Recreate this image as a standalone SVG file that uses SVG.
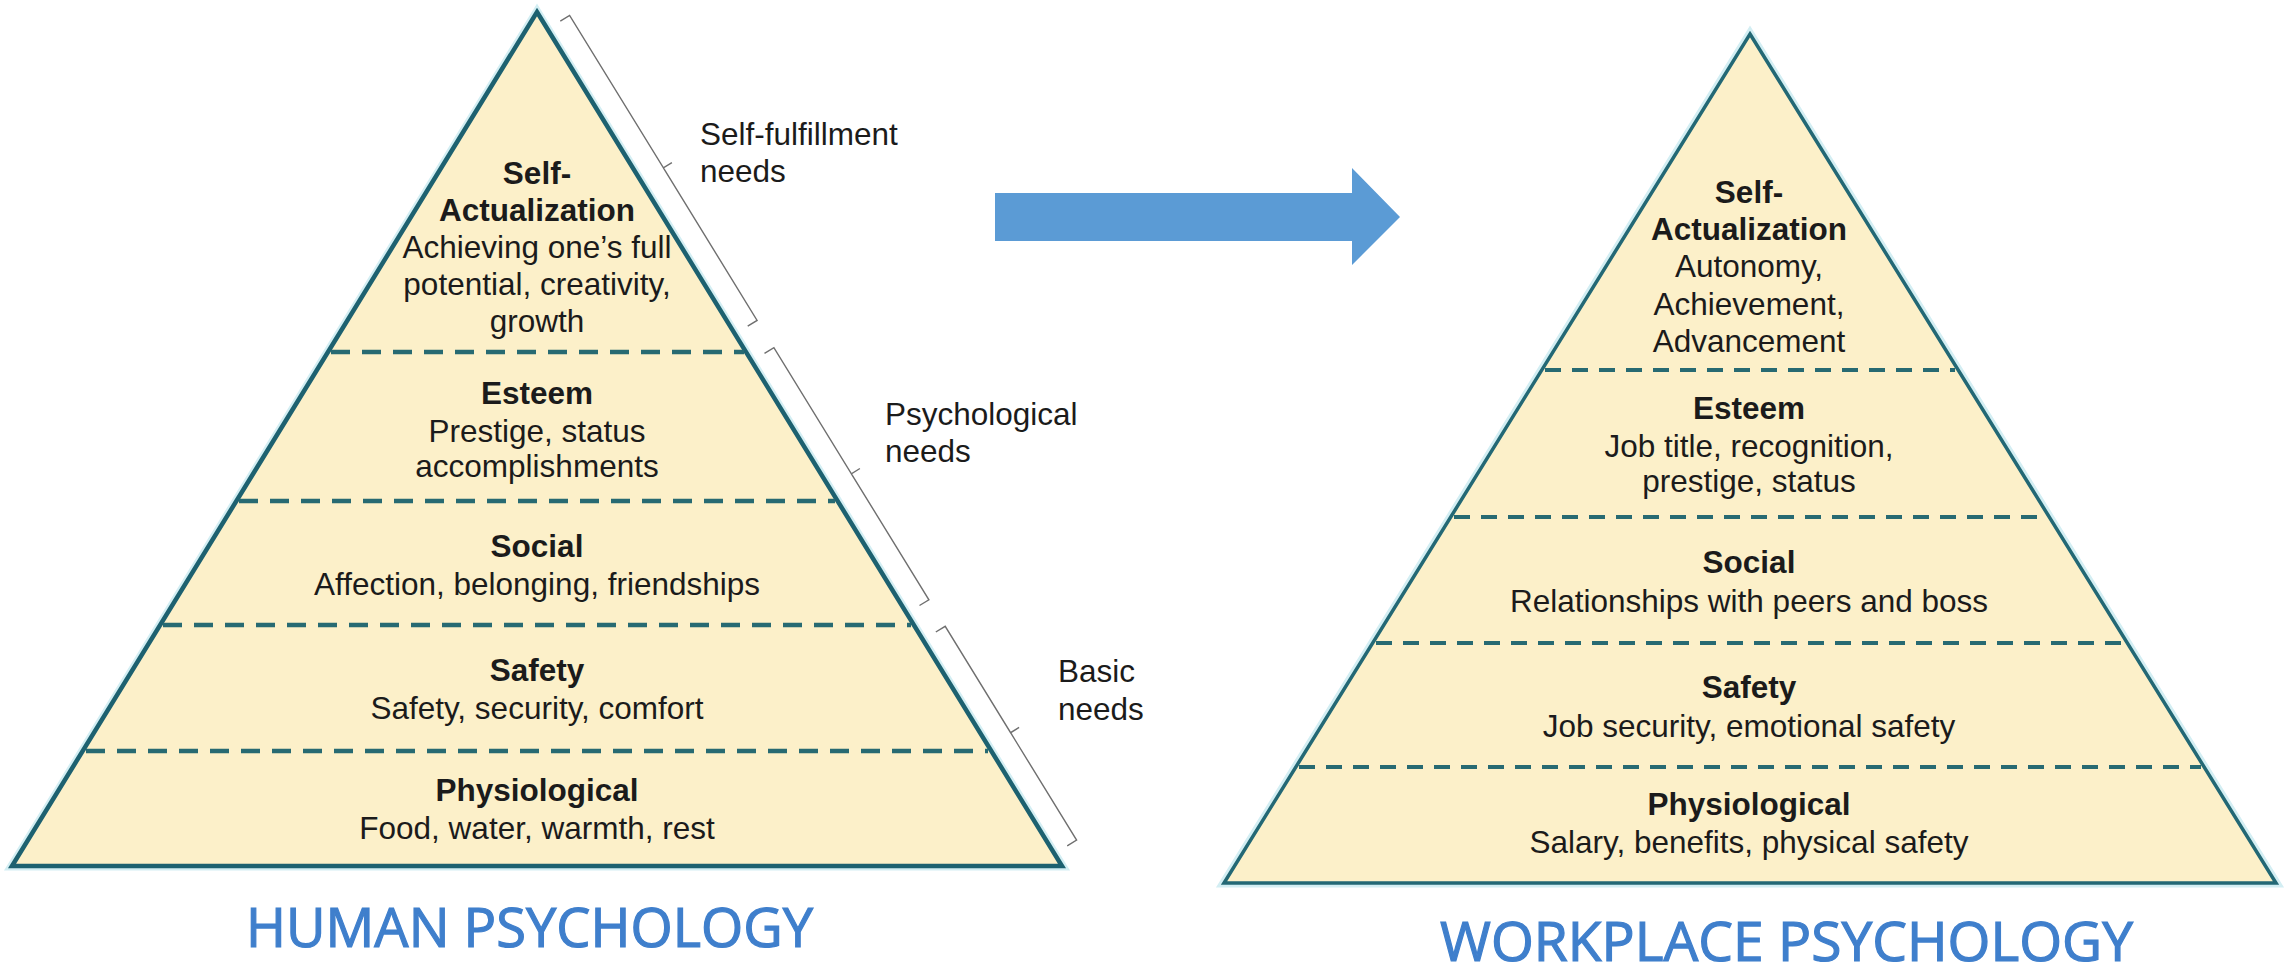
<svg xmlns="http://www.w3.org/2000/svg" width="2292" height="976" viewBox="0 0 2292 976">
  <style>
    .t { font-family: "Liberation Sans", Arial, Helvetica, sans-serif; font-size: 31.5px; fill: #1b1b1b; text-anchor: middle; }
    .b { font-weight: bold; }
    .lbl { font-family: "Liberation Sans", Arial, Helvetica, sans-serif; font-size: 31.5px; fill: #1b1b1b; }
    .halo { fill: none; stroke: #d3eef3; stroke-width: 9; stroke-linejoin: miter; }
    .pyr-l { fill: #fcf0c9; stroke: #1d6170; stroke-width: 4.5; stroke-linejoin: miter; }
    .pyr-r { fill: #fcf0c9; stroke: #236875; stroke-width: 3.5; stroke-linejoin: miter; }
    .dash-l { stroke: #276a72; stroke-width: 4.5; stroke-dasharray: 19 12; fill: none; }
    .dash-r { stroke: #276a72; stroke-width: 4; stroke-dasharray: 16 11; fill: none; }
    .brace { fill: none; stroke: #6f6f6f; stroke-width: 1.4; stroke-linejoin: miter; }
    .title { font-family: "Open Sans", "DejaVu Sans", sans-serif; font-size: 55px; font-weight: normal; fill: #3f7fcc; stroke: #3f7fcc; stroke-width: 1.2; }
  </style>

  <rect x="0" y="0" width="2292" height="976" fill="#ffffff"/>

  <!-- Left pyramid: human needs -->
  <g id="pyramid-human">
    <polygon class="halo" points="537,12 1062,866 12,866"/>
    <polygon class="pyr-l" points="537,12 1062,866 12,866"/>
    <line class="dash-l" x1="331" y1="352" x2="744" y2="352"/>
    <line class="dash-l" x1="239" y1="501" x2="835" y2="501"/>
    <line class="dash-l" x1="163" y1="625" x2="911" y2="625"/>
    <line class="dash-l" x1="86" y1="751" x2="988" y2="751"/>
  </g>

  <g id="human-self-actualization">
    <text class="t b" x="537" y="184">Self-</text>
    <text class="t b" x="537" y="221">Actualization</text>
    <text class="t" x="537" y="258">Achieving one’s full</text>
    <text class="t" x="537" y="295">potential, creativity,</text>
    <text class="t" x="537" y="332">growth</text>
  </g>
  <g id="human-esteem">
    <text class="t b" x="537" y="404">Esteem</text>
    <text class="t" x="537" y="442">Prestige, status</text>
    <text class="t" x="537" y="477">accomplishments</text>
  </g>
  <g id="human-social">
    <text class="t b" x="537" y="557">Social</text>
    <text class="t" x="537" y="595">Affection, belonging, friendships</text>
  </g>
  <g id="human-safety">
    <text class="t b" x="537" y="681">Safety</text>
    <text class="t" x="537" y="719">Safety, security, comfort</text>
  </g>
  <g id="human-physiological">
    <text class="t b" x="537" y="801">Physiological</text>
    <text class="t" x="537" y="839">Food, water, warmth, rest</text>
  </g>

  <!-- Braces along the right side of the left pyramid -->
  <g id="connectors">
    <path class="brace" d="M560.3,21.2 L569.6,15.4 L663.4,167.9 L671.9,162.6 M663.4,167.9 L757.1,320.4 L747.7,326.2"/>
    <path class="brace" d="M764.5,353.4 L773.9,347.7 L851.4,473.8 L859.9,468.5 M851.4,473.8 L928.9,599.8 L919.5,605.5"/>
    <path class="brace" d="M935.8,632.0 L945.2,626.3 L1010.6,732.7 L1019.1,727.4 M1010.6,732.7 L1076.6,840.1 L1067.2,845.8"/>
  </g>

  <g id="label-self-fulfillment">
    <text class="lbl" x="700" y="145">Self-fulfillment</text>
    <text class="lbl" x="700" y="182">needs</text>
  </g>
  <g id="label-psychological">
    <text class="lbl" x="885" y="425">Psychological</text>
    <text class="lbl" x="885" y="462">needs</text>
  </g>
  <g id="label-basic">
    <text class="lbl" x="1058" y="682">Basic</text>
    <text class="lbl" x="1058" y="720">needs</text>
  </g>

  <!-- Transition arrow -->
  <g id="arrow">
    <polygon points="995,193 1352,193 1352,168 1400,217 1352,265 1352,241 995,241" fill="#5b9bd5"/>
  </g>

  <!-- Right pyramid: workplace needs -->
  <g id="pyramid-workplace">
    <polygon class="halo" points="1750,34 2276,883 1224,883"/>
    <polygon class="pyr-r" points="1750,34 2276,883 1224,883"/>
    <line class="dash-r" x1="1545" y1="370" x2="1955" y2="370"/>
    <line class="dash-r" x1="1454" y1="517" x2="2046" y2="517"/>
    <line class="dash-r" x1="1376" y1="643" x2="2124" y2="643"/>
    <line class="dash-r" x1="1299" y1="767" x2="2201" y2="767"/>
  </g>

  <g id="work-self-actualization">
    <text class="t b" x="1749" y="203">Self-</text>
    <text class="t b" x="1749" y="240">Actualization</text>
    <text class="t" x="1749" y="277">Autonomy,</text>
    <text class="t" x="1749" y="315">Achievement,</text>
    <text class="t" x="1749" y="352">Advancement</text>
  </g>
  <g id="work-esteem">
    <text class="t b" x="1749" y="419">Esteem</text>
    <text class="t" x="1749" y="457">Job title, recognition,</text>
    <text class="t" x="1749" y="492">prestige, status</text>
  </g>
  <g id="work-social">
    <text class="t b" x="1749" y="573">Social</text>
    <text class="t" x="1749" y="612">Relationships with peers and boss</text>
  </g>
  <g id="work-safety">
    <text class="t b" x="1749" y="698">Safety</text>
    <text class="t" x="1749" y="737">Job security, emotional safety</text>
  </g>
  <g id="work-physiological">
    <text class="t b" x="1749" y="815">Physiological</text>
    <text class="t" x="1749" y="853">Salary, benefits, physical safety</text>
  </g>

  <!-- Captions -->
  <g id="caption-human">
    <text class="title" x="246" y="947" textLength="567" lengthAdjust="spacingAndGlyphs">HUMAN PSYCHOLOGY</text>
  </g>
  <g id="caption-workplace">
    <text class="title" x="1440" y="961" textLength="693" lengthAdjust="spacingAndGlyphs">WORKPLACE PSYCHOLOGY</text>
  </g>
</svg>
